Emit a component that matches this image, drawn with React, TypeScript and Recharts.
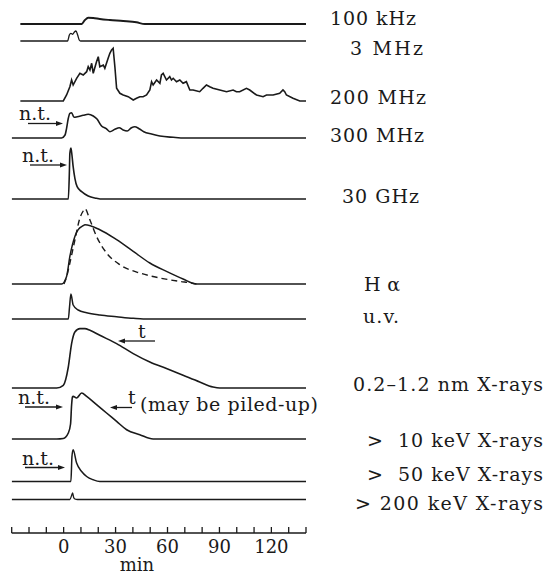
import { LineChart, Line, XAxis, YAxis } from "recharts";

// time in minutes, v = trace height above its own baseline (arbitrary units)
const TICKS = [-30, -20, -10, 0, 10, 20, 30, 40, 50, 60, 70, 80, 90, 100, 110, 120, 130, 140];
const TICK_LABELS = [0, 30, 60, 90, 120];

const khz100 = [[-25, 0], [10.4, 0], [12.3, 4], [14.2, 6.3], [17.1, 6], [20.9, 5], [26.7, 4], [34.4, 3], [42.1, 1.7], [46.9, 0], [140, 0]];
const mhz3 = [[-25, 0], [2.3, 0], [3.3, 6], [4.2, 7.7], [5.2, 6.7], [6.1, 8.7], [7.1, 10], [8.1, 6], [9, 1], [9.8, 0], [140, 0]];
const mhz200 = [
  [-25, 0], [-0.2, 0], [1.7, 6], [3.6, 14.3], [4.6, 21], [5.5, 16], [7.5, 22.7], [9.4, 27.7], [11.3, 26], [13.3, 29.3],
  [14.2, 34.3], [15.2, 31], [16.2, 37.7], [17.1, 27.7], [19, 39.3], [20, 44.3], [20.9, 34.3], [22.9, 36], [23.8, 32.7],
  [25.7, 42.7], [26.7, 47.7], [27.7, 51], [28.6, 52.7], [29.6, 34.3], [30.6, 12.7], [32.5, 7.7], [34.4, 6], [37.3, 4.3],
  [40.2, 1], [42.1, 2.7], [44, 4.3], [45.9, 4.3], [47.9, 6], [49.8, 11], [50.8, 19.3], [51.7, 16], [53.7, 21], [55.6, 17.7],
  [56.5, 26], [57.5, 27.7], [59.4, 21], [61.3, 24.3], [62.3, 21], [63.3, 22.7], [65.2, 19.3], [67.1, 21], [69, 17.7],
  [70.9, 19.3], [72.9, 11], [74.8, 11], [78.6, 9.3], [80.5, 12.7], [82.5, 16], [84.4, 14.3], [86.3, 12.7], [90.2, 11],
  [94.1, 9.3], [97.9, 11], [99.8, 9.3], [101.7, 9.3], [105.6, 12.7], [107.5, 11], [111.4, 6], [115.2, 4.3], [117.2, 6],
  [121, 6], [124.8, 7.7], [126.7, 11], [127.7, 9.3], [128.7, 6], [132.5, 2.7], [136.4, 0], [140, 0],
];
const mhz300 = [
  [-30, 0], [-1.2, 0], [0.8, 3], [1.7, 9.7], [2.7, 19.7], [3.6, 24.7], [4.6, 25.3], [6, 20.7], [7.9, 21.3], [11.3, 22.7],
  [14.2, 23.7], [17.1, 22], [19.4, 18.7], [21.9, 12], [24.4, 9.7], [26.7, 6.3], [29.6, 8.7], [32.1, 10.3], [34.4, 8],
  [36.7, 7], [39.2, 10.3], [41.1, 11.3], [43.6, 9.3], [46.3, 6.3], [50.8, 4], [55.6, 2], [63.3, 0.7], [70, 0], [140, 0],
];
const ghz30 = [[-30, 0], [2.7, 0], [3.3, 25.7], [3.6, 45.7], [4.2, 51], [4.8, 44], [5.5, 32.3], [6.5, 20.7], [7.8, 12.3], [10.4, 7.3], [14.2, 3], [19, 0.7], [21, 0], [140, 0]];
const halpha = [[-30, 0], [-1.2, 0], [1.7, 7.6], [3.6, 27.6], [6.5, 47.6], [8.4, 54.3], [11.3, 58.3], [12.3, 59.3], [20.9, 54.3], [30.6, 44.3], [40.2, 32.6], [49.8, 21], [59.4, 12.6], [69, 5], [76.7, 0], [140, 0]];
const halphaDashed = [[0.2, 0], [1.7, 7], [3.6, 21], [6.5, 44], [9.4, 66], [11.3, 73], [12.3, 75.3], [15.2, 64], [19, 47.6], [24.8, 31], [32.5, 19.3], [44, 11], [55.6, 6], [67.1, 2.6], [73.9, 1], [76.7, 0]];
const uv = [[-30, 0], [2.7, 0], [3.4, 12], [4.2, 25], [5.5, 14], [8.4, 9], [13.3, 6.3], [20.9, 4], [30.6, 2.3], [40.2, 0.7], [46, 0], [140, 0]];
const soft = [[-30, 0], [-4, 0], [-0.2, 2.7], [2.7, 21], [4.6, 44.4], [6.5, 56], [9.4, 59.4], [12.3, 59.4], [15.2, 57.7], [20.9, 52.7], [30.6, 44.4], [40.2, 34.4], [49.8, 26], [59.4, 19.4], [69, 12.7], [78.6, 6], [86.3, 1], [90.2, 0], [140, 0]];
const kev10 = [[-30, 0], [-4, 0], [-0.2, 0.5], [2.7, 6], [4, 15], [4.6, 34], [5.1, 42], [5.5, 42.6], [7.5, 41], [10.4, 46], [13.3, 42.6], [19, 34.3], [24.8, 26], [30.6, 17.6], [36.4, 9.3], [44, 4.3], [51.7, 0], [140, 0]];
const kev50 = [[-30, 0], [4.2, 0], [4.8, 25], [5.5, 31.7], [7.5, 18.4], [10.4, 10], [13.3, 5], [17.1, 1.7], [20.9, 0], [140, 0]];
const kev200 = [[-30, 0], [3.6, 0], [4.6, 4], [5.2, 6.5], [5.8, 2], [6.5, 0.5], [8, 0], [140, 0]];

const pts = (a: number[][]) => a.map(([t, v]) => ({ t, v }));

const PLOT_H = 533;
const INK = "#1a1a1a";
const SERIF = "'DejaVu Serif', serif";

// baseline (px from top of plot) for each trace
const PANELS = [
  { id: "khz100", data: khz100, base: 24, w: 1.9 },
  { id: "mhz3", data: mhz3, base: 41, w: 1.3 },
  { id: "mhz200", data: mhz200, base: 101, w: 1.6, linear: true },
  { id: "mhz300", data: mhz300, base: 138, w: 1.6 },
  { id: "ghz30", data: ghz30, base: 199, w: 1.6 },
  { id: "halpha", data: halpha, base: 284, w: 1.5 },
  { id: "uv", data: uv, base: 319, w: 1.5 },
  { id: "soft", data: soft, base: 388, w: 1.6 },
  { id: "kev10", data: kev10, base: 439, w: 1.6 },
  { id: "kev50", data: kev50, base: 481.5, w: 1.5 },
  { id: "kev200", data: kev200, base: 499.5, w: 1.3 },
];

const LABELS = [
  { text: "100 kHz", x: 330, y: 25, w: 86 },
  { text: "3 MHz", x: 350, y: 55, w: 73 },
  { text: "200 MHz", x: 330, y: 104, w: 96 },
  { text: "300 MHz", x: 330, y: 142, w: 94 },
  { text: "30 GHz", x: 342, y: 203, w: 77 },
  { text: "H α", x: 364, y: 291, w: 36 },
  { text: "u.v.", x: 363, y: 323, w: 36 },
  { text: "0.2–1.2 nm X-rays", x: 353, y: 391, w: 190 },
  { text: ">  10 keV X-rays", x: 367, y: 447, w: 176 },
  { text: ">  50 keV X-rays", x: 367, y: 481, w: 176 },
  { text: "> 200 keV X-rays", x: 355, y: 509.5, w: 188 },
];

const MinTick = ({ x, y, payload }: any) => (
  <g>
    <line x1={x} x2={x} y1={y} y2={y - 6} stroke={INK} strokeWidth={1.3} />
    {TICK_LABELS.includes(payload.value) && (
      <text x={x} y={y + 20} textAnchor="middle" fontFamily={SERIF} fontSize={18} fill={INK}>
        {payload.value}
      </text>
    )}
  </g>
);

const Arrow = ({ x1, x2, y }: { x1: number; x2: number; y: number }) => {
  const d = x2 > x1 ? 1 : -1;
  return (
    <g>
      <line x1={x1} x2={x2 - d * 5} y1={y} y2={y} stroke={INK} strokeWidth={1.3} />
      <path d={`M${x2},${y} L${x2 - d * 7},${y - 2.5} L${x2 - d * 7},${y + 2.5} Z`} fill={INK} />
    </g>
  );
};

const NT = ({ x, y, ax1, ax2, ay }: { x: number; y: number; ax1: number; ax2: number; ay: number }) => (
  <g>
    <text x={x} y={y} fontFamily={SERIF} fontSize={19} fill={INK}>n.t.</text>
    <Arrow x1={ax1} x2={ax2} y={ay} />
  </g>
);

export default function App() {
  return (
    <div style={{ position: "absolute", left: 0, top: 0, width: 546, height: 579, background: "#fff" }}>
      <LineChart width={546} height={579} margin={{ top: 0, right: 240, bottom: 16, left: 11.7 }}>
        <XAxis
          dataKey="t"
          type="number"
          domain={[-30, 140]}
          ticks={TICKS}
          interval={0}
          allowDataOverflow
          height={30}
          tickSize={0}
          tickMargin={0}
          tickLine={false}
          axisLine={{ stroke: INK, strokeWidth: 1.5 }}
          tick={<MinTick />}
        />
        {PANELS.map((p) => (
          <YAxis key={p.id} yAxisId={p.id} hide type="number" domain={[p.base - PLOT_H, p.base]} allowDataOverflow />
        ))}
        {PANELS.map((p) => (
          <Line
            key={p.id}
            yAxisId={p.id}
            data={pts(p.data)}
            dataKey="v"
            type={p.linear ? "linear" : "monotone"}
            stroke={INK}
            strokeWidth={p.w}
            dot={false}
            activeDot={false}
            isAnimationActive={false}
          />
        ))}
        <Line
          yAxisId="halpha"
          data={pts(halphaDashed)}
          dataKey="v"
          type="monotone"
          stroke={INK}
          strokeWidth={1.4}
          strokeDasharray="6 4"
          dot={false}
          activeDot={false}
          isAnimationActive={false}
        />
      </LineChart>
      <svg width={546} height={579} style={{ position: "absolute", left: 0, top: 0, pointerEvents: "none" }}>
        {LABELS.map((l) => (
          <text key={l.text} x={l.x} y={l.y} fontFamily={SERIF} fontSize={19} fill={INK} textLength={l.w} lengthAdjust="spacing" style={{ whiteSpace: "pre" }}>
            {l.text}
          </text>
        ))}
        <NT x={19} y={120} ax1={28} ax2={63} ay={123.5} />
        <NT x={22} y={161.5} ax1={30} ax2={67} ay={165} />
        <NT x={18} y={404} ax1={25} ax2={63} ay={407} />
        <NT x={22} y={464.5} ax1={25} ax2={65} ay={467.5} />
        <text x={138} y={338} fontFamily={SERIF} fontSize={19} fill={INK}>t</text>
        <Arrow x1={155} x2={118} y={341} />
        <text x={128} y={404} fontFamily={SERIF} fontSize={19} fill={INK}>t</text>
        <Arrow x1={132} x2={110} y={407.5} />
        <text x={140} y={411} fontFamily={SERIF} fontSize={19} fill={INK} textLength={178} lengthAdjust="spacing">(may be piled-up)</text>
        <text x={137} y={571} textAnchor="middle" fontFamily={SERIF} fontSize={18} fill={INK}>min</text>
      </svg>
    </div>
  );
}
